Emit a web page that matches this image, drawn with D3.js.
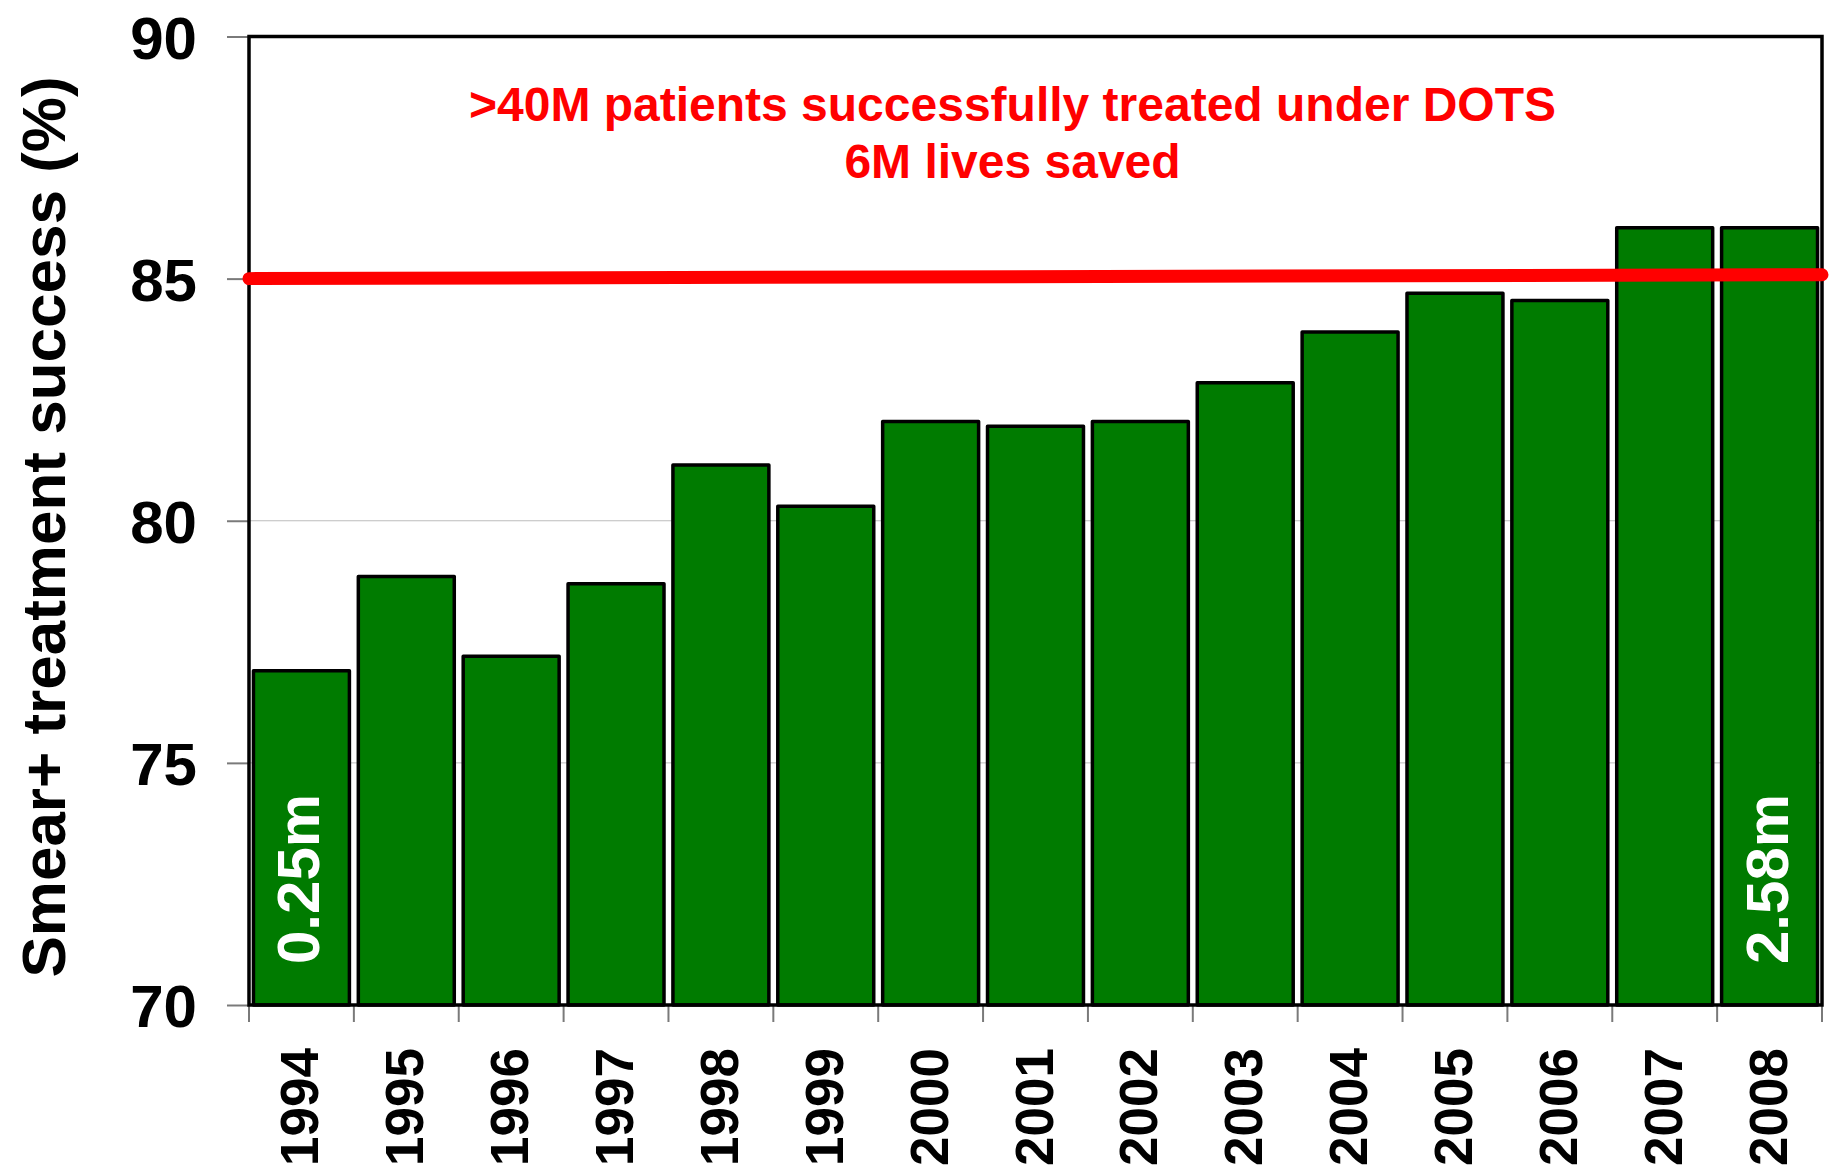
<!DOCTYPE html>
<html>
<head>
<meta charset="utf-8">
<script src="https://cdnjs.cloudflare.com/ajax/libs/d3/7.8.5/d3.min.js"></script>
<style>
  body { margin: 0; background: #fff; }
  text { font-family: "Liberation Sans", Arial, sans-serif; font-weight: bold; }
</style>
</head>
<body>
<div class="chart"></div>
<script>
// data
const years = ['1994','1995','1996','1997','1998','1999','2000','2001','2002','2003','2004','2005','2006','2007','2008']
const success = [76.9, 78.85, 77.2, 78.7, 81.15, 80.3, 82.05, 81.95, 82.05, 82.85, 83.9, 84.7, 84.55, 86.05, 86.05]
const yTicks = [70, 75, 80, 85, 90]
const target = [85.0, 85.08]   // red target line, left end / right end
const barNotes = [{year: '1994', label: '0.25m'}, {year: '2008', label: '2.58m'}]
const noteLines = ['>40M patients successfully treated under DOTS', '6M lives saved']

var margin = ({top: 36.5, bottom: 166, left: 249, right: 10})
const width = 1832 - margin.left - margin.right
const height = 1171 - margin.top - margin.bottom

const svg = d3.select('.chart')
  .append('svg')
  .attr('width', width + margin.left + margin.right)
  .attr('height', height + margin.top + margin.bottom)
  .append('g')
  .attr('transform', 'translate(' + margin.left + ',' + margin.top + ')')

const x = d3.scaleBand()
  .domain(years)
  .range([0, width])
  .paddingInner(0.085)
  .paddingOuter(0.0425)

const y = d3.scaleLinear()
  .domain([70, 90])
  .range([height, 0])

// light grid
svg.append('g')
  .selectAll('line')
  .data(yTicks.filter(d => d > 70 && d < 90))
  .enter()
  .append('line')
  .attr('x1', 0)
  .attr('x2', width)
  .attr('y1', d => y(d))
  .attr('y2', d => y(d))
  .attr('stroke', '#bdbdbd')
  .attr('stroke-width', 1)

// y axis
const yAxis = d3.axisLeft(y).tickValues(yTicks).tickSize(22).tickPadding(30)
svg.append('g')
  .attr('class', 'y-axis')
  .call(yAxis)
  .call(g => g.select('.domain').remove())
  .call(g => g.selectAll('.tick line').attr('stroke', '#7a7a7a').attr('stroke-width', 2))
  .call(g => g.selectAll('.tick text')
    .attr('font-size', 60)
    .attr('fill', '#000')
    .attr('dy', '0.36em'))

// x axis: ticks sit on the category boundaries
const bounds = d3.range(years.length + 1).map(i => i * x.step())
svg.append('g')
  .selectAll('line')
  .data(bounds)
  .enter()
  .append('line')
  .attr('x1', d => d)
  .attr('x2', d => d)
  .attr('y1', height)
  .attr('y2', height + 17)
  .attr('stroke', '#7a7a7a')
  .attr('stroke-width', 2)

svg.append('g')
  .selectAll('text')
  .data(years)
  .enter()
  .append('text')
  .attr('transform', d => `translate(${x(d) + x.bandwidth() / 2 + 17}, ${height + 43}) rotate(-90)`)
  .attr('text-anchor', 'end')
  .attr('font-size', 53)
  .attr('fill', '#000')
  .text(d => d)

// bars
svg.selectAll('.bar')
  .data(years.map((d, i) => ({year: d, value: success[i]})))
  .enter()
  .append('rect')
  .attr('class', 'bar')
  .attr('x', d => x(d.year))
  .attr('y', d => y(d.value))
  .attr('width', x.bandwidth())
  .attr('height', d => height - y(d.value))
  .attr('fill', '#007b00')
  .attr('stroke', '#000')
  .attr('stroke-width', 3.5)
  .attr('stroke-linejoin', 'round')

// labels inside first and last bar
svg.append('g')
  .selectAll('text')
  .data(barNotes)
  .enter()
  .append('text')
  .attr('transform', d => `translate(${x(d.year) + x.bandwidth() / 2 + 18}, ${height - 41}) rotate(-90)`)
  .attr('text-anchor', 'start')
  .attr('font-size', 60)
  .attr('fill', '#fff')
  .text(d => d.label)

// plot frame
svg.append('rect')
  .attr('x', 0)
  .attr('y', 0)
  .attr('width', width)
  .attr('height', height)
  .attr('fill', 'none')
  .attr('stroke', '#000')
  .attr('stroke-width', 3.5)

// red 85% target line
svg.append('line')
  .attr('x1', x.range()[0])
  .attr('x2', x.range()[1])
  .attr('y1', y(target[0]))
  .attr('y2', y(target[1]))
  .attr('stroke', '#ff0000')
  .attr('stroke-width', 13)
  .attr('stroke-linecap', 'round')

// red annotation
svg.append('g')
  .selectAll('text')
  .data(noteLines)
  .enter()
  .append('text')
  .attr('x', 1012.5 - margin.left)
  .attr('y', (d, i) => 121 - margin.top + i * 57)
  .attr('text-anchor', 'middle')
  .attr('font-size', 48)
  .attr('fill', '#ff0000')
  .text(d => d)

// y axis title
svg.append('text')
  .attr('transform', `translate(${65 - margin.left}, ${527 - margin.top}) rotate(-90)`)
  .attr('text-anchor', 'middle')
  .attr('font-size', 62)
  .attr('fill', '#000')
  .text('Smear+ treatment success (%)')
</script>
</body>
</html>
